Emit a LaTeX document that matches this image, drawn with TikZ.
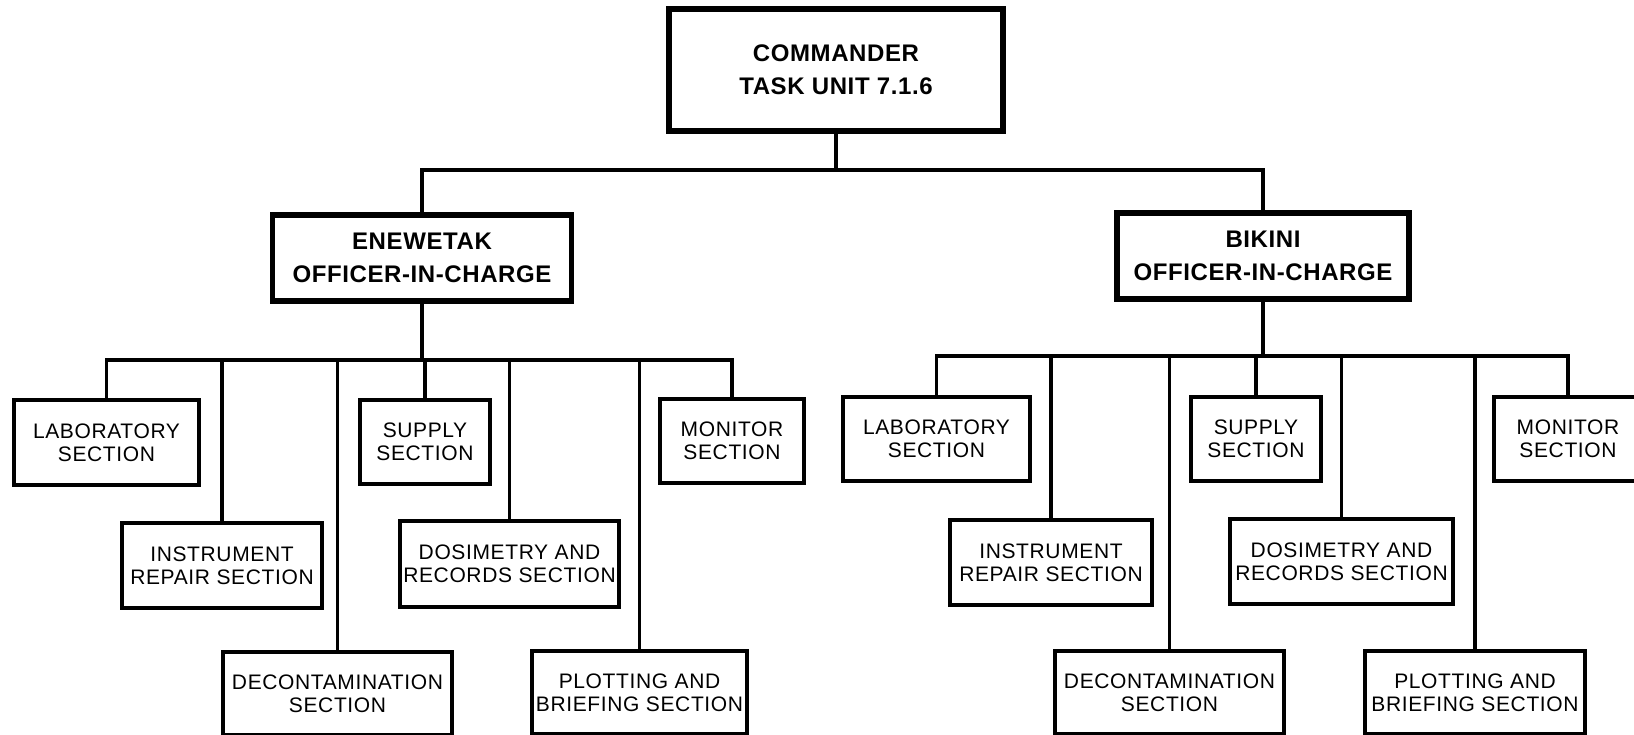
\documentclass[tikz,border=0pt]{standalone}
\usepackage{fontspec}
\setmainfont{Liberation Sans}
\newfontfamily\secfont[LetterSpace=3]{Liberation Sans}
\newfontfamily\headfont[LetterSpace=2.5]{Liberation Sans}
\begin{document}
\begin{tikzpicture}[x=1pt,y=-1pt,
  sec/.style={draw,line width=3.2pt,inner sep=0pt,align=center,
    font=\secfont\fontsize{21}{23}\selectfont},
  head/.style={draw,line width=5.2pt,inner sep=0pt,align=center,
    font=\headfont\bfseries\fontsize{24}{33}\selectfont},
  conn/.style={line width=3.2pt}]
\clip (0,0) rectangle (1634,734);
\fill[white] (0,0) rectangle (1634,734);
% top
\node[head,minimum width=334pt,minimum height=122pt] (cmd) at (836,70) {COMMANDER\\TASK UNIT 7.1.6};
\node[head,minimum width=299pt,minimum height=86pt] (een) at (422,258) {ENEWETAK\\OFFICER-IN-CHARGE};
\node[head,minimum width=292pt,minimum height=86pt] (bik) at (1263,256) {BIKINI\\OFFICER-IN-CHARGE};
% Enewetak sections
\node[sec,minimum width=185pt,minimum height=85pt] (elab) at (106.5,442.5) {LABORATORY\\SECTION};
\node[sec,minimum width=130pt,minimum height=84pt] (esup) at (425,442) {SUPPLY\\SECTION};
\node[sec,minimum width=144pt,minimum height=84pt] (emon) at (732,441) {MONITOR\\SECTION};
\node[sec,minimum width=200pt,minimum height=85pt] (eins) at (222,565.5) {INSTRUMENT\\REPAIR SECTION};
\node[sec,minimum width=219pt,minimum height=86pt] (edos) at (509.5,564) {DOSIMETRY AND\\RECORDS SECTION};
\node[sec,minimum width=229pt,minimum height=83pt] (edec) at (337.5,693.5) {DECONTAMINATION\\SECTION};
\node[sec,minimum width=215pt,minimum height=83pt] (eplt) at (639.5,692.5) {PLOTTING AND\\BRIEFING SECTION};
% Bikini sections
\node[sec,minimum width=187pt,minimum height=84pt] (blab) at (936.5,439) {LABORATORY\\SECTION};
\node[sec,minimum width=130pt,minimum height=84pt] (bsup) at (1256,439) {SUPPLY\\SECTION};
\node[sec,minimum width=148pt,minimum height=84pt] (bmon) at (1568,439) {MONITOR\\SECTION};
\node[sec,minimum width=202pt,minimum height=85pt] (bins) at (1051,562.5) {INSTRUMENT\\REPAIR SECTION};
\node[sec,minimum width=223pt,minimum height=85pt] (bdos) at (1341.5,561.5) {DOSIMETRY AND\\RECORDS SECTION};
\node[sec,minimum width=229pt,minimum height=83pt] (bdec) at (1169.5,692.5) {DECONTAMINATION\\SECTION};
\node[sec,minimum width=220pt,minimum height=83pt] (bplt) at (1475,692.5) {PLOTTING AND\\BRIEFING SECTION};
% connectors
\coordinate (topbus) at (836,170);
\coordinate (ebus) at (422,360);
\coordinate (bbus) at (1263,356);
\draw[conn] (cmd.south) -- (cmd.south |- topbus);
\draw[conn] (een.north) -- (een.north |- topbus) -- (bik.north |- topbus) -- (bik.north);
\draw[conn] (een.south) -- (een.south |- ebus);
\draw[conn] (elab.north) -- (elab.north |- ebus) -- (emon.north |- ebus) -- (emon.north);
\foreach \n in {eins,edec,esup,edos,eplt} \draw[conn] (\n.north |- ebus) -- (\n.north);
\draw[conn] (bik.south) -- (bik.south |- bbus);
\draw[conn] (blab.north) -- (blab.north |- bbus) -- (bmon.north |- bbus) -- (bmon.north);
\foreach \n in {bins,bdec,bsup,bdos,bplt} \draw[conn] (\n.north |- bbus) -- (\n.north);
\end{tikzpicture}
\end{document}
